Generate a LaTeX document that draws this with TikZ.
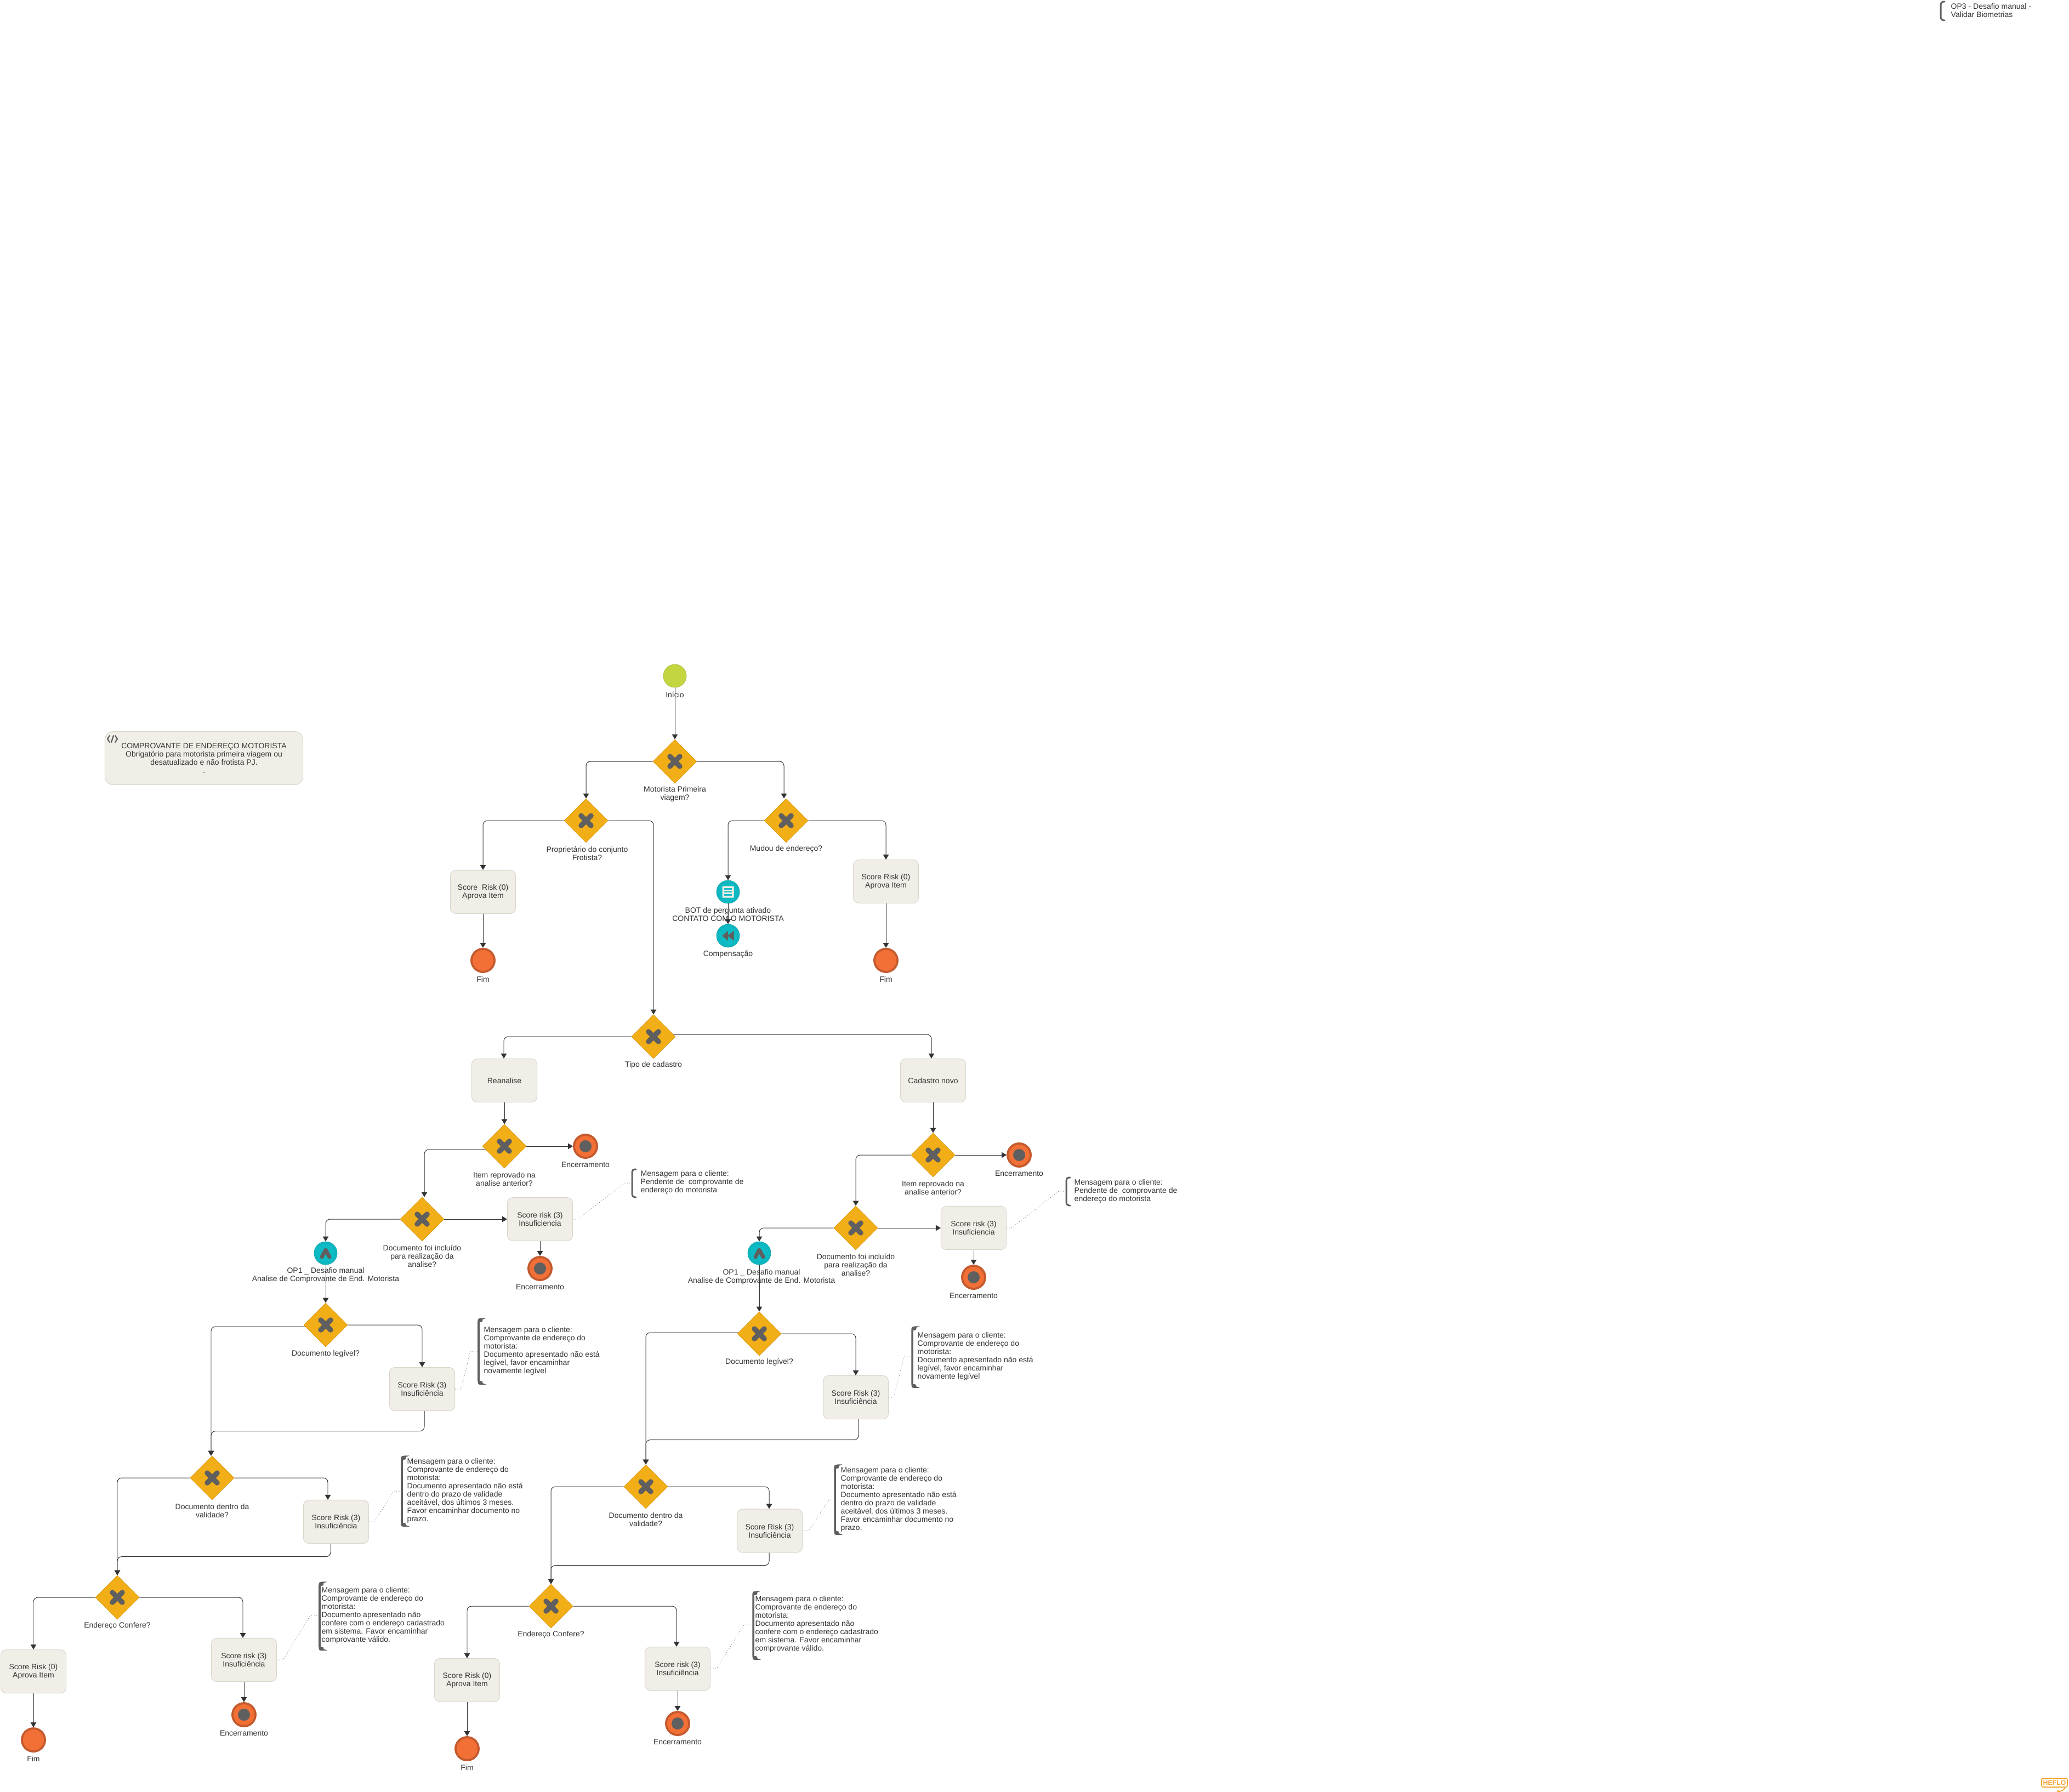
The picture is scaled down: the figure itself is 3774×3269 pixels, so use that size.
\documentclass[tikz,border=0pt]{standalone}
\usepackage{fontspec}
\setmainfont{Liberation Sans}
\usetikzlibrary{shapes.geometric, arrows.meta, calc}
\definecolor{gatewayfill}{HTML}{F2AE17}
\definecolor{gatewayline}{HTML}{D89A14}
\definecolor{startfill}{HTML}{C3D63F}
\definecolor{startline}{HTML}{A9BB35}
\definecolor{taskfill}{HTML}{F0EEE7}
\definecolor{taskline}{HTML}{D9D7CC}
\definecolor{tealfill}{HTML}{0DBBC4}
\definecolor{tealline}{HTML}{0BA0A8}
\definecolor{endfill}{HTML}{F27036}
\definecolor{endline}{HTML}{C45A2E}
\definecolor{icongray}{HTML}{5F5F5F}
\definecolor{inkgray}{HTML}{333333}
\definecolor{logoorange}{HTML}{F5A533}
\begin{document}
\begin{tikzpicture}[
    x=0.01cm, y=-0.01cm,
    gateway/.style={diamond, draw=gatewayline, fill=gatewayfill, line width=0.2pt, inner sep=0, minimum size=0.8cm,
        path picture={\begin{scope}[shift={(path picture bounding box.center)}]
            \draw[icongray, line width=0.095cm, line cap=round] (-9,-9) -- (9,9) (-9,9) -- (9,-9);
        \end{scope}}},
    scoretask/.style={rectangle, rounded corners=0.1cm, draw=taskline, fill=taskfill, line width=0.3pt, minimum width=1.19cm, minimum height=0.79cm, inner sep=0, align=center, text=inkgray, font=\fontsize{3.984}{4.27}\selectfont},
    startevent/.style={circle, draw=startline, fill=startfill, line width=0.2pt, inner sep=0, minimum size=0.42cm},
    fimevent/.style={circle, draw=endline, fill=endfill, line width=1.1pt, inner sep=0, minimum size=0.42cm},
    stopevent/.style={fimevent, path picture={\fill[icongray] (path picture bounding box.center) circle (0.11cm);}},
    tealevent/.style={circle, draw=tealline, fill=tealfill, line width=0.2pt, inner sep=0, minimum size=0.42cm},
    botevent/.style={tealevent, path picture={\begin{scope}[shift={(path picture bounding box.center)}]
            \draw[tealline, line width=0.1pt] (0,0) circle (18);
            \fill[taskfill, rounded corners=0.2pt] (-10.5,-10.5) rectangle (10.5,10.5);
            \draw[tealfill, line width=0.6pt, line cap=round] (-6.5,-5.5) -- (6.5,-5.5) (-6.5,0) -- (6.5,0) (-6.5,5.5) -- (6.5,5.5);
        \end{scope}}},
    compevent/.style={tealevent, path picture={\begin{scope}[shift={(path picture bounding box.center)}]
            \draw[tealline, line width=0.1pt] (0,0) circle (18);
            \filldraw[icongray, line width=0.3pt, line join=round] (-10,0) -- (-0.5,-8) -- (-0.5,8) -- cycle (0,0) -- (10,-8) -- (10,8) -- cycle;
        \end{scope}}},
    upevent/.style={tealevent, path picture={\begin{scope}[shift={(path picture bounding box.center)}]
            \draw[tealline, line width=0.1pt] (0,0) circle (18);
            \draw[icongray, line width=0.07cm, line cap=round, line join=round] (-7,7) -- (0,-6) -- (7,7);
        \end{scope}}},
    caption/.style={inner sep=0, align=center, text=inkgray, font=\fontsize{3.984}{4.27}\selectfont},
    notetext/.style={inner sep=0, align=left, anchor=west, text=inkgray, font=\fontsize{3.984}{4.27}\selectfont},
    flow/.style={-{Triangle[length=0.09cm, width=0.105cm]}, draw=inkgray, line width=0.28pt, rounded corners=0.08cm},
    assoc/.style={draw=gray, line width=0.28pt, densely dotted},
    bracket/.style={draw=icongray, line width=#1, line cap=round, rounded corners=0.05cm},
    bracket/.default=1pt,
    bracketend/.style={draw=icongray, line width=0.07cm, line cap=round}
]
    \useasboundingbox (0,0) rectangle (3774,3269);

    % Top right note
    \node[notetext] (noteOp) at (3558,18.5) {OP3 - Desafio manual -\\Validar Biometrias};
    \draw[bracket=0.85pt] (3547,3) -- (3540,3) -- (3540,37) -- (3547,37);

    % Scope box
    \node[scoretask, minimum width=3.61cm, minimum height=0.97cm, rounded corners=0.15cm] (scope) at (372,1383) {COMPROVANTE DE ENDEREÇO MOTORISTA\\Obrigatório para motorista primeira viagem ou\\desatualizado e não frotista PJ.\\.};
    \coordinate (scopeIcon) at (205,1348);
    \draw[icongray, line width=0.022cm, line cap=round, line join=round] ($(scopeIcon)+(-5,-6)$) -- ($(scopeIcon)+(-9,0)$) -- ($(scopeIcon)+(-5,6)$) ($(scopeIcon)+(5,-6)$) -- ($(scopeIcon)+(9,0)$) -- ($(scopeIcon)+(5,6)$) ($(scopeIcon)+(2,-6)$) -- ($(scopeIcon)+(-2,6)$);

    % Start and first decisions
    \node[startevent] (start) at (1231,1233) {};
    \node[caption] (cStart) at (1231,1267) {Início};
    \node[gateway] (gPrimeira) at (1231,1389) {};
    \node[caption] (cPrimeira) at (1231,1448.5) {Motorista Primeira\\viagem?};
    \node[gateway] (gProp) at (1069,1497) {};
    \node[caption] (cProp) at (1071,1556.5) {Proprietário do conjunto\\Frotista?};
    \node[gateway] (gMudou) at (1434,1497) {};
    \node[caption] (cMudou) at (1434,1549) {Mudou de endereço?};

    % Proprietario branch
    \node[scoretask] (tProp) at (881,1627) {Score\ \ Risk (0)\\Aprova Item};
    \node[fimevent] (eProp) at (881,1752) {};
    \node[caption] (cEProp) at (881,1786) {Fim};

    % Mudou branch
    \node[botevent] (bot) at (1328,1627) {};
    \node[caption] (cBot) at (1328,1667.5) {BOT de pergunta ativado\\CONTATO COM O MOTORISTA};
    \node[compevent] (comp) at (1328,1707) {};
    \node[caption] (cComp) at (1328,1741) {Compensação};
    \node[scoretask] (tMudou) at (1616,1608) {Score Risk (0)\\Aprova Item};
    \node[fimevent] (eMudou) at (1616,1752) {};
    \node[caption] (cEMudou) at (1616,1786) {Fim};

    % Tipo de cadastro
    \node[gateway] (gTipo) at (1192,1891) {};
    \node[caption] (cTipo) at (1192,1943) {Tipo de cadastro};
    \node[scoretask] (reanalise) at (920,1971) {Reanalise};
    \node[scoretask] (cadastro) at (1702,1971) {Cadastro novo};

    % Reanalise side
    \node[gateway] (gItemL) at (920,2091) {};
    \node[caption] (cItemL) at (920,2150.5) {Item reprovado na\\analise anterior?};
    \node[stopevent] (eItemL) at (1068,2091) {};
    \node[caption] (cEItemL) at (1068,2125) {Encerramento};
    \node[gateway] (gDocL) at (770,2224) {};
    \node[caption] (cDocL) at (770,2291) {Documento foi incluído\\para realização da\\analise?};
    \node[scoretask] (tDocL) at (985,2224) {Score risk (3)\\Insuficiencia};
    \node[stopevent] (eDocL) at (985,2314) {};
    \node[caption] (cEDocL) at (985,2348) {Encerramento};
    \node[notetext] (nDocL) at (1168,2157) {Mensagem para o cliente:\\Pendente de\ \ comprovante de\\endereço do motorista};
    \draw[bracket=0.85pt] (1160,2133) -- (1153,2133) -- (1153,2184) -- (1160,2184);
    \coordinate (bDocL) at (1153,2158);
    \node[upevent] (opL) at (594,2286) {};
    \node[caption] (cOpL) at (594,2326.5) {OP1 \_ Desafio manual\\Analise de Comprovante de End. Motorista};
    \node[gateway] (gLegL) at (594,2417) {};
    \node[caption] (cLegL) at (594,2470) {Documento legível?};
    \node[scoretask] (tLegL) at (770,2534) {Score Risk (3)\\Insuficiência};
    \node[notetext] (nLegL) at (882,2464) {Mensagem para o cliente:\\Comprovante de endereço do\\motorista:\\Documento apresentado não está\\legível, favor encaminhar\\novamente legível};
    \draw[bracket] (878,2406) -- (873,2406) -- (873,2524) -- (878,2524);
    \draw[bracketend] (877,2408) -- (875,2408) (877,2522) -- (875,2522);
    \coordinate (bLegL) at (872,2465);
    \node[gateway] (gValL) at (387,2696) {};
    \node[caption] (cValL) at (387,2755.5) {Documento dentro da\\validade?};
    \node[scoretask] (tValL) at (613,2776) {Score Risk (3)\\Insuficiência};
    \node[notetext] (nValL) at (742,2719.5) {Mensagem para o cliente:\\Comprovante de endereço do\\motorista:\\Documento apresentado não está\\dentro do prazo de validade\\aceitável, dos últimos 3 meses.\\Favor encaminhar documento no\\prazo.};
    \draw[bracket] (738,2657) -- (733,2657) -- (733,2783) -- (738,2783);
    \draw[bracketend] (737,2659) -- (735,2659) (737,2781) -- (735,2781);
    \coordinate (bValL) at (732,2720);
    \node[gateway] (gEndL) at (214,2914) {};
    \node[caption] (cEndL) at (214,2966) {Endereço Confere?};
    \node[scoretask] (tAprL) at (61,3049) {Score Risk (0)\\Aprova Item};
    \node[fimevent] (eAprL) at (61,3174) {};
    \node[caption] (cEAprL) at (61,3208) {Fim};
    \node[scoretask] (tEndL) at (445,3028) {Score risk (3)\\Insuficiência};
    \node[stopevent] (eEndL) at (445,3128) {};
    \node[caption] (cEEndL) at (445,3162) {Encerramento};
    \node[notetext] (nEndL) at (586,2946.5) {Mensagem para o cliente:\\Comprovante de endereço do\\motorista:\\Documento apresentado não\\confere com o endereço cadastrado\\em sistema. Favor encaminhar\\comprovante válido.};
    \draw[bracket] (588,2887) -- (583,2887) -- (583,3009) -- (588,3009);
    \draw[bracketend] (587,2889) -- (585,2889) (587,3007) -- (585,3007);
    \coordinate (bEndL) at (582,2947);

    % Cadastro novo side
    \node[gateway] (gItemR) at (1702,2107) {};
    \node[caption] (cItemR) at (1702,2166.5) {Item reprovado na\\analise anterior?};
    \node[stopevent] (eItemR) at (1859,2107) {};
    \node[caption] (cEItemR) at (1859,2141) {Encerramento};
    \node[gateway] (gDocR) at (1561,2240) {};
    \node[caption] (cDocR) at (1561,2307) {Documento foi incluído\\para realização da\\analise?};
    \node[scoretask] (tDocR) at (1776,2240) {Score risk (3)\\Insuficiencia};
    \node[stopevent] (eDocR) at (1776,2330) {};
    \node[caption] (cEDocR) at (1776,2364) {Encerramento};
    \node[notetext] (nDocR) at (1959,2172.5) {Mensagem para o cliente:\\Pendente de\ \ comprovante de\\endereço do motorista};
    \draw[bracket=0.85pt] (1952,2148) -- (1945,2148) -- (1945,2199) -- (1952,2199);
    \coordinate (bDocR) at (1945,2173);
    \node[upevent] (opR) at (1385,2286) {};
    \node[caption] (cOpR) at (1389,2329.5) {OP1 \_ Desafio manual\\Analise de Comprovante de End. Motorista};
    \node[gateway] (gLegR) at (1385,2433) {};
    \node[caption] (cLegR) at (1385,2485) {Documento legível?};
    \node[scoretask] (tLegR) at (1561,2549) {Score Risk (3)\\Insuficiência};
    \node[notetext] (nLegR) at (1673,2474) {Mensagem para o cliente:\\Comprovante de endereço do\\motorista:\\Documento apresentado não está\\legível, favor encaminhar\\novamente legível};
    \draw[bracket] (1669,2421) -- (1664,2421) -- (1664,2530) -- (1669,2530);
    \draw[bracketend] (1668,2423) -- (1666,2423) (1668,2528) -- (1666,2528);
    \coordinate (bLegR) at (1663,2475);
    \node[gateway] (gValR) at (1178,2712) {};
    \node[caption] (cValR) at (1178,2771.5) {Documento dentro da\\validade?};
    \node[scoretask] (tValR) at (1404,2792.5) {Score Risk (3)\\Insuficiência};
    \node[notetext] (nValR) at (1533,2735.5) {Mensagem para o cliente:\\Comprovante de endereço do\\motorista:\\Documento apresentado não está\\dentro do prazo de validade\\aceitável, dos últimos 3 meses.\\Favor encaminhar documento no\\prazo.};
    \draw[bracket] (1528,2673) -- (1523,2673) -- (1523,2798) -- (1528,2798);
    \draw[bracketend] (1527,2675) -- (1525,2675) (1527,2796) -- (1525,2796);
    \coordinate (bValR) at (1522,2736);
    \node[gateway] (gEndR) at (1005,2930) {};
    \node[caption] (cEndR) at (1005,2982) {Endereço Confere?};
    \node[scoretask] (tAprR) at (852,3065) {Score Risk (0)\\Aprova Item};
    \node[fimevent] (eAprR) at (852,3190) {};
    \node[caption] (cEAprR) at (852,3224) {Fim};
    \node[scoretask] (tEndR) at (1236,3044) {Score risk (3)\\Insuficiência};
    \node[stopevent] (eEndR) at (1236,3144) {};
    \node[caption] (cEEndR) at (1236,3178) {Encerramento};
    \node[notetext] (nEndR) at (1377,2962.5) {Mensagem para o cliente:\\Comprovante de endereço do\\motorista:\\Documento apresentado não\\confere com o endereço cadastrado\\em sistema. Favor encaminhar\\comprovante válido.};
    \draw[bracket] (1379,2904) -- (1374,2904) -- (1374,3026) -- (1379,3026);
    \draw[bracketend] (1378,2906) -- (1376,2906) (1378,3024) -- (1376,3024);
    \coordinate (bEndR) at (1373,2964);

    % Logo
    \node[rectangle, draw=logoorange, line width=0.5pt, rounded corners=0.03cm, minimum width=0.47cm, minimum height=0.16cm, inner sep=0, text=logoorange, font=\bfseries\fontsize{3.5}{3.5}\selectfont] (logo) at (3747.5,3252) {HEFLO};
    \draw[logoorange, line width=0.5pt, line cap=round] (logo.south east) ++(-5,0) .. controls ++(-1,6) and ++(-8,6) .. ++(-12,5);

    % Flows of the top part
    \draw[flow] (start.south) -- (gPrimeira.north);
    \draw[flow] (gPrimeira.east) -| ([xshift=-0.4mm]gMudou.north);
    \draw[flow] (gPrimeira.west) -| (gProp.north);
    \draw[flow] (gProp.west) -| (tProp.north);
    \draw[flow] (tProp.south) -- (eProp.north);
    \draw[flow] (gProp.east) -| (gTipo.north);
    \draw[flow] (gMudou.west) -| (bot.north);
    \draw[flow] (bot.south) -- (comp.north);
    \draw[flow] (gMudou.east) -| (tMudou.north);
    \draw[flow] (tMudou.south) -- (eMudou.north);
    \draw[flow] (gTipo.west) -| ([xshift=-0.1mm]reanalise.north);
    \draw[flow] ([shift={(-0.4mm,0.4mm)}]gTipo.east) -| ([xshift=-0.3mm]cadastro.north);

    % Flows of the Reanalise side
    \draw[flow] (reanalise.south) -- (gItemL.north);
    \draw[flow] (gItemL.east) -- (eItemL.west);
    \draw[flow] ([shift={(0.6mm,-0.6mm)}]gItemL.west) -| ([xshift=0.4mm]gDocL.north);
    \draw[flow] (gDocL.east) -- (tDocL.west);
    \draw[flow] (tDocL.south) -- (eDocL.north);
    \draw[flow] (gDocL.west) -| (opL.north);
    \draw[flow] (opL.south) -- (gLegL.north);
    \draw[flow] (gLegL.east) -| (tLegL.north);
    \draw[flow] ([shift={(0.3mm,-0.3mm)}]gLegL.west) -| ([xshift=-0.2mm]gValL.north);
    \draw[flow] ([xshift=0.4mm]tLegL.south) |- ($(gValL.north)+(-2,-45)$) -- ([xshift=-0.2mm]gValL.north);
    \draw[flow] (gValL.east) -| ([xshift=-1.5mm]tValL.north);
    \draw[flow] (gValL.west) -| (gEndL.north);
    \draw[flow] ([xshift=-1mm]tValL.south) |- ($(gEndL.north)+(0,-34)$) -- (gEndL.north);
    \draw[flow] (gEndL.west) -| (tAprL.north);
    \draw[flow] (tAprL.south) -- (eAprL.north);
    \draw[flow] (gEndL.east) -| ([xshift=-0.2mm]tEndL.north);
    \draw[flow] (tEndL.south) -- (eEndL.north);

    % Flows of the Cadastro side
    \draw[flow] (cadastro.south) -- (gItemR.north);
    \draw[flow] (gItemR.east) -- (eItemR.west);
    \draw[flow] (gItemR.west) -| (gDocR.north);
    \draw[flow] (gDocR.east) -- (tDocR.west);
    \draw[flow] (tDocR.south) -- (eDocR.north);
    \draw[flow] (gDocR.west) -| (opR.north);
    \draw[flow] (opR.south) -- (gLegR.north);
    \draw[flow] (gLegR.east) -| (tLegR.north);
    \draw[flow] ([shift={(0.2mm,0.2mm)}]gLegR.west) -| (gValR.north);
    \draw[flow] ([xshift=0.5mm]tLegR.south) |- ($(gValR.north)+(0,-45)$) -- (gValR.north);
    \draw[flow] (gValR.east) -| ([xshift=-0.1mm]tValR.north);
    \draw[flow] (gValR.west) -| (gEndR.north);
    \draw[flow] ([xshift=-0.1mm]tValR.south) |- ($(gEndR.north)+(0,-34)$) -- (gEndR.north);
    \draw[flow] (gEndR.west) -| (tAprR.north);
    \draw[flow] (tAprR.south) -- (eAprR.north);
    \draw[flow] (gEndR.east) -| ([xshift=-0.2mm]tEndR.north);
    \draw[flow] (tEndR.south) -- (eEndR.north);

    % Dotted links to the messages
    \draw[assoc] (tDocL.east) -- ++(9,0) -- ($(bDocL)+(-14,0)$) -- (bDocL);
    \draw[assoc] (tLegL.east) -- ++(11,0) -- ($(bLegL)+(-14,0)$) -- (bLegL);
    \draw[assoc] (tValL.east) -- ++(10,0) -- ($(bValL)+(-14,0)$) -- (bValL);
    \draw[assoc] (tEndL.east) -- ++(11,0) -- ($(bEndL)+(-16,0)$) -- (bEndL);
    \draw[assoc] (tDocR.east) -- ++(9,0) -- ($(bDocR)+(-14,0)$) -- (bDocR);
    \draw[assoc] (tLegR.east) -- ++(9,0) -- ($(bLegR)+(-14,0)$) -- (bLegR);
    \draw[assoc] (tValR.east) -- ++(11,0) -- ($(bValR)+(-10,0)$) -- (bValR);
    \draw[assoc] (tEndR.east) -- ++(11,0) -- ($(bEndR)+(-16,0)$) -- (bEndR);
\end{tikzpicture}
\end{document}
